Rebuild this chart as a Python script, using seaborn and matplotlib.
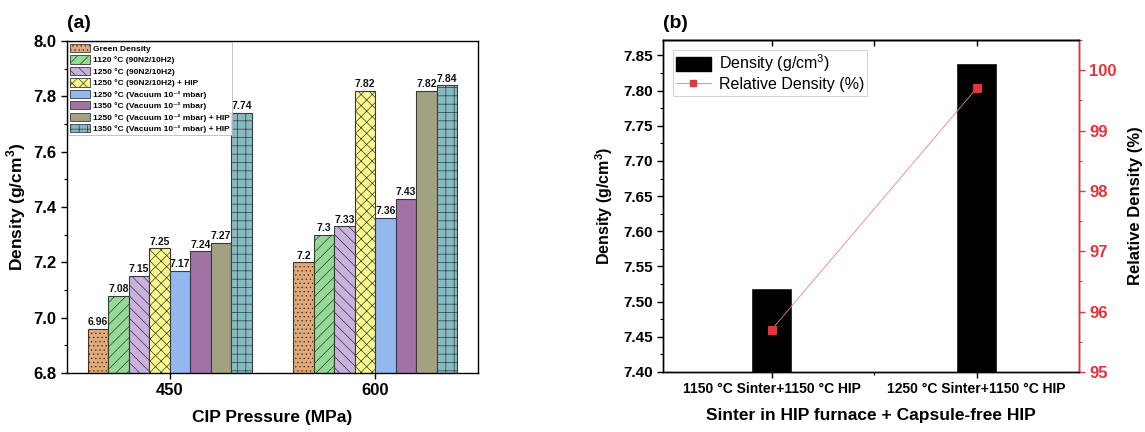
import numpy as np
import pandas as pd
import matplotlib
matplotlib.use("Agg")
import matplotlib.pyplot as plt
from matplotlib.patches import Patch
from matplotlib.lines import Line2D
from matplotlib.ticker import MultipleLocator, FixedLocator
import seaborn as sns

# ---------------- data ----------------
pressures = ["450", "600"]
series_names = [
    "Green Density",
    "1120 °C (90N2/10H2)",
    "1250 °C (90N2/10H2)",
    "1250 °C (90N2/10H2) + HIP",
    "1250 °C (Vacuum 10⁻² mbar)",
    "1350 °C (Vacuum 10⁻² mbar)",
    "1250 °C (Vacuum 10⁻² mbar) + HIP",
    "1350 °C (Vacuum 10⁻² mbar) + HIP",
]
green_density = [6.96, 7.20]
n1120 = [7.08, 7.30]
n1250 = [7.15, 7.33]
n1250_hip = [7.25, 7.82]
vac1250 = [7.17, 7.36]
vac1350 = [7.24, 7.43]
vac1250_hip = [7.27, 7.82]
vac1350_hip = [7.74, 7.84]
series_values = [green_density, n1120, n1250, n1250_hip, vac1250, vac1350, vac1250_hip, vac1350_hip]

b_categories = ["1150 °C Sinter+1150 °C HIP", "1250 °C Sinter+1150 °C HIP"]
b_density = [7.52, 7.84]
b_relative = [95.7, 99.7]

# ---------------- style ----------------
sns.set_theme(style="ticks", rc={"text.color": "black", "axes.labelcolor": "black",
                                 "xtick.color": "black", "ytick.color": "black",
                                 "axes.edgecolor": "black"})
plt.rcParams["font.family"] = ["Liberation Sans", "DejaVu Sans"]
plt.rcParams["mathtext.fontset"] = "custom"
plt.rcParams["mathtext.rm"] = "Liberation Sans"
plt.rcParams["mathtext.bf"] = "Liberation Sans:bold"
plt.rcParams["hatch.linewidth"] = 0.5
plt.rcParams["axes.linewidth"] = 1.0

colors = ["#E2AA78", "#94D994", "#C9B2DF", "#FBFB8C", "#93B8EF", "#A272A5", "#A2A283", "#84BCC3"]
hatches = ["....", "///", "\\\\\\", "xxx", "", "", "", "++"]
edge = "#3a3a3a"

fig = plt.figure(figsize=(11.45, 4.32), dpi=100)
axa = fig.add_axes([0.0585, 0.1366, 0.359, 0.7685])
axb = fig.add_axes([0.579, 0.1389, 0.3634, 0.7685])

# ---------------- panel (a) ----------------
df = pd.DataFrame({
    "pressure": np.repeat([pressures], len(series_names), axis=0).ravel(),
    "series": np.repeat(series_names, len(pressures)),
    "density": np.concatenate(series_values),
})
sns.barplot(data=df, x="pressure", y="density", hue="series", hue_order=series_names,
            order=pressures, palette=colors, saturation=1, width=0.8,
            edgecolor=edge, linewidth=0.8, ax=axa, legend=False, errorbar=None)

for cont, h, vals in zip(axa.containers, hatches, series_values):
    for p, v in zip(cont.patches, vals):
        p.set_hatch(h)
        p.set_edgecolor(edge)
        axa.text(p.get_x() + p.get_width() / 2, p.get_height() + 0.006, f"{v:g}",
                 ha="center", va="bottom", fontsize=7.5, fontweight="bold", color="#111111")

axa.set_ylim(6.8, 8.0)
axa.set_xlim(-0.5, 1.5)
axa.yaxis.set_major_locator(MultipleLocator(0.2))
axa.yaxis.set_minor_locator(MultipleLocator(0.1))
axa.set_yticklabels([f"{t:.1f}" for t in axa.get_yticks()])
axa.tick_params(axis="both", which="major", direction="out", length=4, width=1,
                labelsize=12, colors="black")
axa.tick_params(axis="y", which="minor", direction="out", length=2.5, width=0.8)
for lab in axa.get_xticklabels() + axa.get_yticklabels():
    lab.set_fontweight("bold")
for s in axa.spines.values():
    s.set_visible(True)
    s.set_color("black")
axa.set_xlabel("CIP Pressure (MPa)", fontsize=12.5, fontweight="bold", labelpad=8)
axa.set_ylabel("Density (g/cm$^\\mathbf{3}$)", fontsize=12.5, fontweight="bold", labelpad=4)
axa.set_title("(a)", loc="left", fontsize=14, fontweight="bold", pad=9)

handles = [Patch(facecolor=c, edgecolor=edge, hatch=h, linewidth=0.6) for c, h in zip(colors, hatches)]
leg = axa.legend(handles, series_names, loc="upper left", prop={"weight": "bold", "size": 6},
                 frameon=True, fancybox=False, edgecolor="#aaaaaa", borderaxespad=0.1,
                 handlelength=2.4, handleheight=1.15, labelspacing=0.3, handletextpad=0.4,
                 borderpad=0.25)
leg.get_frame().set_linewidth(0.6)

# ---------------- panel (b) ----------------
sns.barplot(x=b_categories, y=b_density, color="black", saturation=1, width=0.2,
            ax=axb, errorbar=None)
axb.set_ylim(7.40, 7.872)
axb.set_xlim(-0.53, 1.5)
axb.yaxis.set_major_locator(MultipleLocator(0.05))
axb.yaxis.set_minor_locator(MultipleLocator(0.025))
axb.xaxis.set_minor_locator(FixedLocator([0.5]))
axb.set_yticklabels([f"{t:.2f}" for t in axb.get_yticks()])
axb.tick_params(axis="both", which="major", direction="out", length=4, width=1,
                labelsize=11, colors="black")
axb.tick_params(axis="x", which="major", labelsize=10)
axb.tick_params(axis="both", which="minor", direction="out", length=2.5, width=0.8)
for lab in axb.get_xticklabels() + axb.get_yticklabels():
    lab.set_fontweight("bold")
axb.set_xlabel("Sinter in HIP furnace + Capsule-free HIP", fontsize=12.5, fontweight="bold", labelpad=8)
axb.set_ylabel("Density (g/cm$^\\mathbf{3}$)", fontsize=11.5, fontweight="bold", labelpad=6)
axb.set_title("(b)", loc="left", fontsize=14, fontweight="bold", pad=9)
for s in axb.spines.values():
    s.set_visible(True)
    s.set_color("black")

top = axb.secondary_xaxis("top")
top.set_xticks([0, 0.5, 1])
top.tick_params(direction="in", length=4, width=1, labeltop=False)

red = "#E8323C"
axb2 = axb.twinx()
sns.lineplot(x=np.arange(len(b_categories)), y=b_relative, ax=axb2, color=red,
             linewidth=0.6, marker="s", markersize=6, markeredgecolor=red, alpha=1)
axb2.lines[0].set_color("#F08080")
axb2.lines[0].set_markerfacecolor(red)
axb2.lines[0].set_markeredgecolor(red)
axb2.set_ylim(95, 100.5)
axb2.yaxis.set_major_locator(MultipleLocator(1))
axb2.yaxis.set_minor_locator(MultipleLocator(0.5))
axb2.tick_params(axis="y", which="major", direction="out", length=4, width=1,
                 labelsize=12, colors=red)
axb2.tick_params(axis="y", which="minor", direction="out", length=2.5, width=0.8, colors=red)
for lab in axb2.get_yticklabels():
    lab.set_fontweight("bold")
axb2.spines["right"].set_color(red)
axb2.spines["right"].set_visible(True)
axb2.set_ylabel("Relative Density (%)", fontsize=12, fontweight="bold", labelpad=8, color="black")

hb = [Patch(facecolor="black", edgecolor="black"),
      Line2D([0], [0], color="#F08080", lw=0.6, marker="s", markersize=5,
             markerfacecolor=red, markeredgecolor=red)]
lb = axb2.legend(hb, ["Density (g/cm$^3$)", "Relative Density (%)"], loc="upper left",
                 prop={"size": 11.5, "weight": "medium"}, frameon=True, fancybox=False,
                 edgecolor="#bbbbbb", borderaxespad=0.6, handlelength=2.2, handleheight=1.0,
                 labelspacing=0.15, borderpad=0.2, handletextpad=0.5)
lb.get_frame().set_linewidth(0.6)

fig.savefig("out.png", dpi=100)
